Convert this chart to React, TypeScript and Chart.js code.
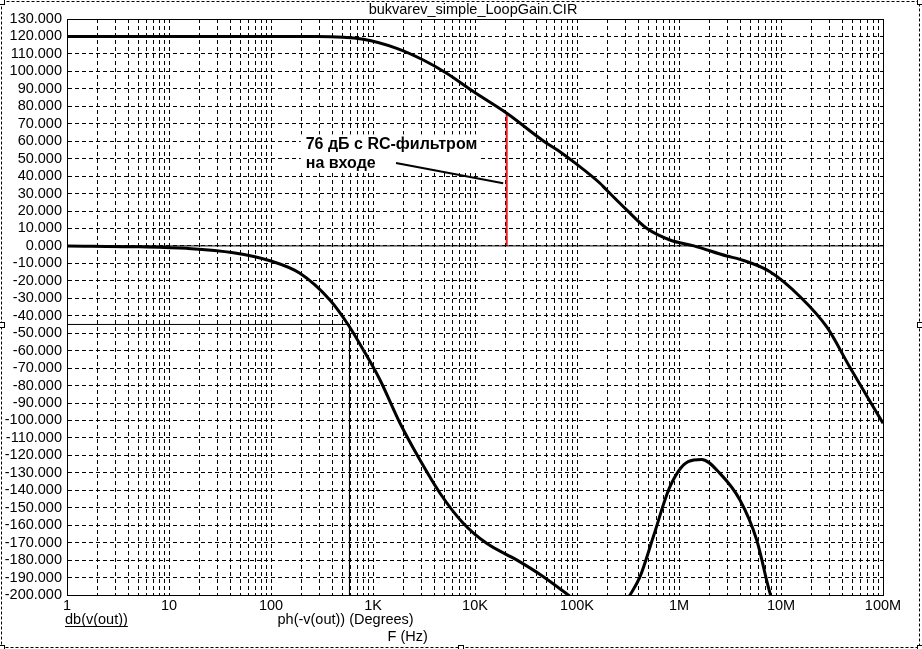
import React, { useEffect, useRef } from "react";
import { Chart, registerables } from "chart.js";

Chart.register(...registerables);

const TITLE = "bukvarev_simple_LoopGain.CIR";
const X_TICK_LABELS = ["1", "10", "100", "1K", "10K", "100K", "1M", "10M", "100M"];
const X_MIN = 1;
const X_MAX = 1e8;
const Y_MIN = -200;
const Y_MAX = 130;
const Y_STEP = 10;

// db(v(out))
const MAG_FREQ = [1, 10, 100, 280, 804, 1708, 3113, 5276, 9620, 20500, 50400, 68000, 92000, 168000, 195000, 307000, 482000, 816000, 1400000, 2940000, 3960000, 7800000, 15400000, 28000000, 47000000, 100000000];
const MAG_DB = [120, 120, 120, 120, 118.4, 113.2, 106.5, 98.9, 88.4, 76, 58.8, 54, 48.3, 35.9, 32, 20.6, 10.1, 3.4, 0, -5.8, -7.7, -14.8, -29.1, -46.3, -69.2, -101.6];

// ph(-v(out)) (Degrees)
const PH_FREQ = [1, 5.2, 14.9, 42.7, 97.7, 192, 378, 573, 804, 1172, 1842, 2890, 4540, 7670, 13000, 25600, 46800, 82000, 150000, 250000, 331000, 415000, 560000, 816000, 1230000, 1670000, 2520000, 3960000, 5780000, 7800000, 10000000];
const PH_DEG = [0, -0.5, -1.4, -3.9, -8.5, -15.7, -31, -45.3, -59.6, -76.8, -101.6, -122.7, -141.7, -158.9, -170.4, -179.9, -189.5, -200, -212, -212, -200, -189.5, -166.6, -137.9, -123.6, -122.3, -130.3, -145.6, -168.5, -198.9, -215];

// cursor marker at -45 degrees
const MARKER_FREQ = 588;
const MARKER_PHASE = -45;

// red gain marker
const GAIN_FREQ = 20460;
const GAIN_DB = 76;

// annotation
const NOTE_LINES = ["76 дБ с RC-фильтром", "на входе"];
const NOTE_FREQ = 219;
const NOTE_DB = 55.3;
const POINTER_FREQ = [1680, 18900];
const POINTER_DB = [47.5, 35.9];

const FONT = "'Liberation Sans', Arial, sans-serif";
const FS = 14.5;

const pts = (xs: number[], ys: number[]) => xs.map((x, i) => ({ x, y: ys[i] }));

const decorPlugin = {
  id: "decor",
  beforeDraw(chart: any) {
    const ctx = chart.ctx as CanvasRenderingContext2D;
    const W = chart.width;
    const H = chart.height;
    const ca = chart.chartArea;
    ctx.save();
    ctx.fillStyle = "#ffffff";
    ctx.fillRect(0, 0, W, H);
    // dashed selection frame
    ctx.strokeStyle = "#000";
    ctx.lineWidth = 1;
    ctx.setLineDash([3, 2]);
    ctx.strokeRect(1.5, 1.5, W - 4, H - 3);
    ctx.setLineDash([]);
    const hs = [
      [1.5, 1.5], [W - 2.5, 1.5],
      [1.5, H / 2], [W - 2.5, H / 2],
      [1.5, H - 1.5], [W / 2, H - 1.5], [W - 2.5, H - 1.5],
    ];
    for (const [hx, hy] of hs) {
      ctx.fillStyle = "#fff";
      ctx.fillRect(Math.round(hx) - 3, Math.round(hy) - 3, 6, 6);
      ctx.strokeRect(Math.round(hx) - 2.5, Math.round(hy) - 2.5, 5, 5);
    }
    // title
    ctx.fillStyle = "#000";
    ctx.font = `${FS}px ${FONT}`;
    ctx.textAlign = "center";
    ctx.textBaseline = "alphabetic";
    ctx.fillText(TITLE, (ca.left + ca.right) / 2 - 2, 14);
    // bottom labels
    ctx.textAlign = "left";
    const by = ca.bottom + 29;
    const lx = ca.left - 2;
    ctx.fillText("db(v(out))", lx, by);
    const tw = ctx.measureText("db(v(out))").width;
    ctx.fillRect(lx, by + 2, tw, 1);
    ctx.fillText("ph(-v(out)) (Degrees)", ca.left + 210.5, by);
    ctx.fillText("F (Hz)", ca.left + 320.5, by + 17);
    ctx.restore();
  },
  beforeDatasetsDraw(chart: any) {
    const ctx = chart.ctx as CanvasRenderingContext2D;
    const xs = chart.scales.x;
    const ys = chart.scales.y;
    const tx = xs.getPixelForValue(NOTE_FREQ);
    const ty = ys.getPixelForValue(NOTE_DB);
    ctx.save();
    ctx.font = `bold 16px ${FONT}`;
    const w = ctx.measureText(NOTE_LINES[0]).width;
    ctx.fillStyle = "#fff";
    ctx.fillRect(tx - 5, ty - 15, w + 8, 37);
    ctx.fillStyle = "#000";
    ctx.textAlign = "left";
    ctx.textBaseline = "alphabetic";
    NOTE_LINES.forEach((s, i) => ctx.fillText(s, tx, ty + i * 18.4));
    ctx.restore();
  },
  afterDatasetsDraw(chart: any) {
    const ctx = chart.ctx as CanvasRenderingContext2D;
    const ca = chart.chartArea;
    ctx.save();
    ctx.strokeStyle = "#000";
    ctx.lineWidth = 1;
    ctx.setLineDash([]);
    ctx.strokeRect(Math.round(ca.left) + 0.5, Math.round(ca.top) + 0.5, Math.round(ca.right - ca.left), Math.round(ca.bottom - ca.top));
    ctx.restore();
  },
};

export default function App() {
  const ref = useRef<HTMLCanvasElement | null>(null);

  useEffect(() => {
    const canvas = ref.current;
    if (!canvas) return;
    const thin = { borderColor: "#000", borderWidth: 1, pointRadius: 0, tension: 0, fill: false };
    const chart = new Chart(canvas, {
      type: "line",
      data: {
        datasets: [
          { label: "db(v(out))", data: pts(MAG_FREQ, MAG_DB), borderColor: "#000", borderWidth: 3, pointRadius: 0, cubicInterpolationMode: "monotone", fill: false },
          { label: "ph(-v(out))", data: pts(PH_FREQ, PH_DEG), borderColor: "#000", borderWidth: 3, pointRadius: 0, cubicInterpolationMode: "monotone", fill: false },
          { label: "zero", data: pts([X_MIN, X_MAX], [0, 0]), ...thin },
          { label: "marker-h", data: pts([X_MIN, MARKER_FREQ], [MARKER_PHASE, MARKER_PHASE]), ...thin },
          { label: "marker-v", data: pts([MARKER_FREQ, MARKER_FREQ], [MARKER_PHASE, Y_MIN]), ...thin },
          { label: "gain", data: pts([GAIN_FREQ, GAIN_FREQ], [0, GAIN_DB]), borderColor: "rgb(237,28,36)", borderWidth: 2, pointRadius: 0, tension: 0, fill: false },
          { label: "pointer", data: pts(POINTER_FREQ, POINTER_DB), borderColor: "#000", borderWidth: 2, pointRadius: 0, tension: 0, fill: false },
        ],
      },
      options: {
        animation: false,
        responsive: false,
        devicePixelRatio: 1,
        parsing: true,
        layout: { padding: { top: 19, right: 39, left: 0, bottom: 0 } },
        plugins: { legend: { display: false }, tooltip: { enabled: false }, title: { display: false } },
        scales: {
          x: {
            type: "logarithmic",
            min: X_MIN,
            max: X_MAX,
            afterBuildTicks: (scale: any) => {
              const t: { value: number }[] = [];
              for (let e = 0; e < X_TICK_LABELS.length; e++) {
                const base = Math.pow(10, e);
                for (let m = 1; m <= 9; m++) {
                  const v = m * base;
                  if (v > X_MAX) break;
                  t.push({ value: v });
                }
              }
              scale.ticks = t;
            },
            afterFit: (scale: any) => { scale.height = 54; },
            ticks: {
              autoSkip: false,
              maxRotation: 0,
              minRotation: 0,
              padding: 2,
              color: "#000",
              font: { family: FONT, size: FS },
              callback: (v: any) => {
                const e = Math.log10(Number(v));
                return Math.abs(e - Math.round(e)) < 1e-9 ? X_TICK_LABELS[Math.round(e)] : "";
              },
            },
            grid: { color: "#000", lineWidth: 1, drawTicks: false },
            border: { display: true, color: "#000", dash: [4, 3] },
          },
          y: {
            type: "linear",
            min: Y_MIN,
            max: Y_MAX,
            afterFit: (scale: any) => { scale.width = 67; },
            ticks: {
              stepSize: Y_STEP,
              autoSkip: false,
              padding: 5,
              color: "#000",
              font: { family: FONT, size: FS },
              callback: (v: any) => Number(v).toFixed(3),
            },
            grid: { color: "#000", lineWidth: 1, drawTicks: false },
            border: { display: true, color: "#000", dash: [4, 3] },
          },
        },
      },
      plugins: [decorPlugin],
    } as any);
    return () => chart.destroy();
  }, []);

  return (
    <div style={{ position: "absolute", left: 0, top: 0, width: 922, height: 649, background: "#fff" }}>
      <canvas ref={ref} width={922} height={649} style={{ display: "block", width: 922, height: 649 }} />
    </div>
  );
}
